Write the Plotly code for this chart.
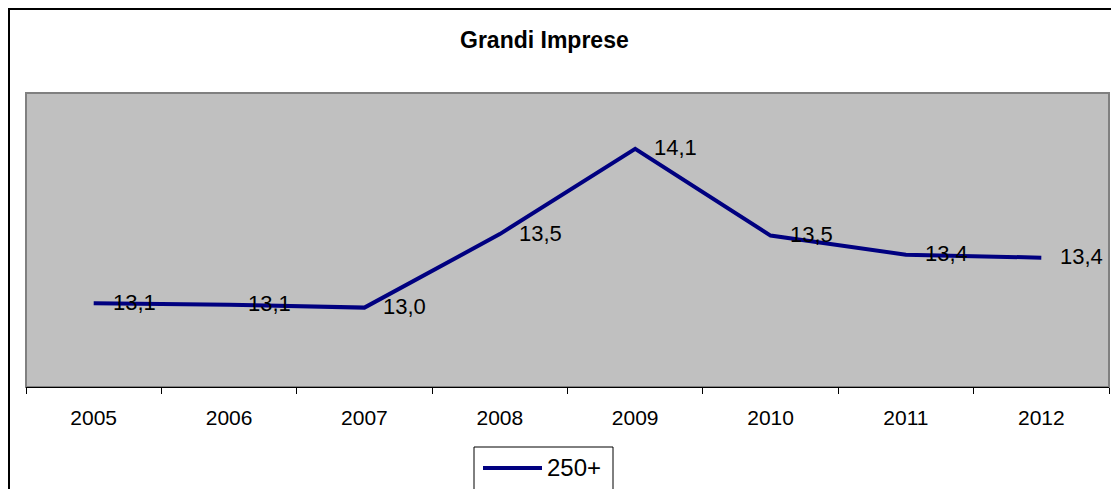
import plotly.graph_objects as go

years = ["2005", "2006", "2007", "2008", "2009", "2010", "2011", "2012"]
values = [13.07, 13.06, 13.04, 13.54, 14.12, 13.53, 13.40, 13.38]
series_name = "250+"
title_text = "Grandi Imprese"

labels = [f"{v:.1f}".replace(".", ",") for v in values]

# page body adds an 8px offset; layout is expressed in page pixels below
OFF = 8
PL, PR, PT, PB = 26, 1109, 93, 387  # plot area in page pixels


def px(xp):
    return (xp - PL) / (PR - PL)


def py(yp):
    return (PB - yp) / (PB - PT)


FONT = "Liberation Sans, Arial"
LINE_COLOR = "#000080"

fig = go.Figure()
fig.add_trace(go.Scatter(
    x=years, y=values, mode="lines", name=series_name,
    line=dict(color=LINE_COLOR, width=4),
    showlegend=False,
))

# category axes take annotation positions as category indices
for i, (v, lab) in enumerate(zip(values, labels)):
    fig.add_annotation(
        x=i, y=v, text=lab, showarrow=False,
        xanchor="left", yanchor="middle", xshift=17, yshift=1,
        font=dict(family=FONT, size=22, color="#000000"),
    )

fig.add_annotation(
    xref="paper", yref="paper", x=px(544), y=py(40),
    text="<b>" + title_text + "</b>", showarrow=False,
    xanchor="center", yanchor="middle",
    font=dict(family=FONT, size=23, color="#000000"),
)

# outer chart border
fig.add_shape(
    type="rect", xref="paper", yref="paper",
    x0=px(9), x1=px(1140), y0=py(520), y1=py(9),
    line=dict(color="#000000", width=2), fillcolor="rgba(0,0,0,0)", layer="below",
)

# legend (drawn as box + sample line + text)
fig.add_shape(
    type="rect", xref="paper", yref="paper",
    x0=px(474), x1=px(613), y0=py(520), y1=py(447),
    line=dict(color="#000000", width=1), fillcolor="#FFFFFF", layer="above",
)
fig.add_shape(
    type="line", xref="paper", yref="paper",
    x0=px(483), x1=px(542), y0=py(468), y1=py(468),
    line=dict(color=LINE_COLOR, width=4), layer="above",
)
fig.add_annotation(
    xref="paper", yref="paper", x=px(545), y=py(467),
    text=series_name, showarrow=False, xanchor="left", yanchor="middle",
    font=dict(family=FONT, size=24, color="#000000"),
)

fig.update_layout(
    width=1119 - OFF, height=489 - OFF,
    margin=dict(l=PL - OFF, r=1119 - PR, t=PT - OFF, b=489 - PB),
    paper_bgcolor="#FFFFFF",
    plot_bgcolor="#C0C0C0",
    font=dict(family=FONT, size=21, color="#000000"),
    showlegend=False,
)

fig.update_xaxes(
    type="category", range=[-0.5, len(years) - 0.5],
    showgrid=False, zeroline=False, automargin=False,
    showline=True, linecolor="#000000", linewidth=1,
    ticks="outside", ticklen=6, tickcolor="#000000", tickson="boundaries",
    ticklabelstandoff=12, tickangle=0, mirror=False,
    tickfont=dict(size=21),
)
fig.update_yaxes(
    range=[12.5, 14.5], showgrid=False, zeroline=False, showticklabels=False,
    showline=False, ticks="", automargin=False,
)

# plot area border (gray)
fig.add_shape(
    type="rect", xref="paper", yref="paper", x0=0, x1=1, y0=0, y1=1,
    line=dict(color="#808080", width=2), fillcolor="rgba(0,0,0,0)", layer="below",
)

fig.write_html("out.html")
